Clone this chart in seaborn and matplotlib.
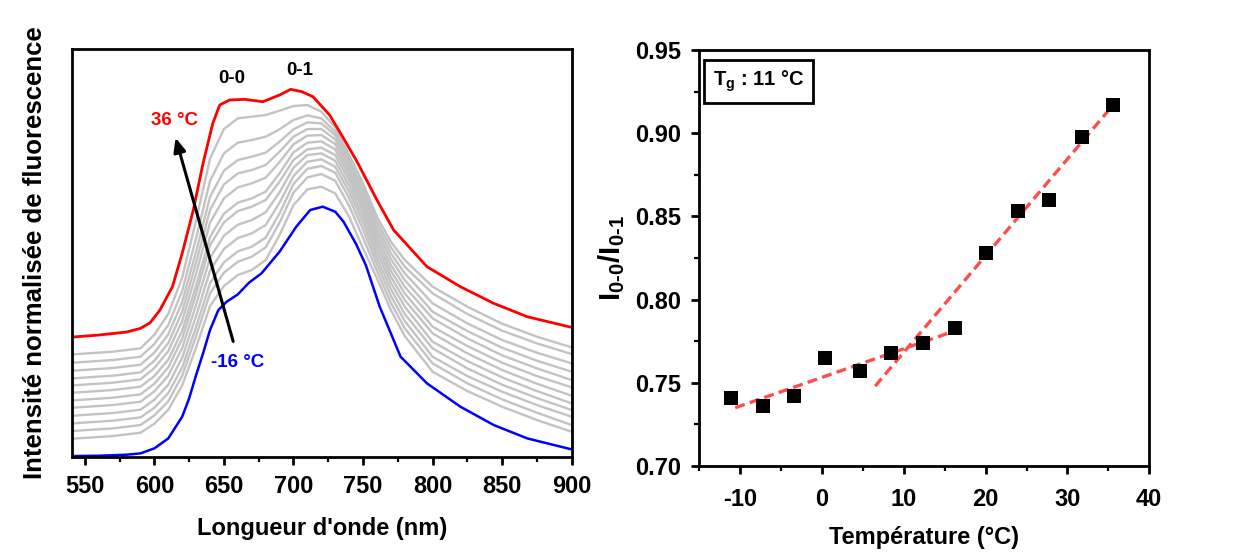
import matplotlib
matplotlib.use("Agg")
import numpy as np
import pandas as pd
import matplotlib.pyplot as plt
import seaborn as sns
from matplotlib.ticker import MultipleLocator, FormatStrFormatter

# ---------------- data: left panel (fluorescence spectra, a.u.) ----------------
wl_red = [541, 560, 580, 590, 597, 604, 613, 620, 628, 635, 642, 647, 654, 665, 678,
          690, 698, 706, 714, 726, 736, 746, 760, 772, 796, 820, 844, 868, 900]
int_red = [359, 365, 374, 385, 402, 440, 510, 610, 740, 880, 1000, 1055, 1070, 1072, 1065,
           1085, 1102, 1095, 1080, 1025, 955, 883, 770, 680, 570, 510, 460, 420, 388]

wl_blue = [541, 560, 580, 590, 600, 610, 620, 625, 630, 635, 640, 646, 652, 660, 668, 677,
           690, 702, 712, 721, 730, 736, 745, 752, 762, 777, 796, 820, 844, 868, 900]
int_blue = [2, 3, 6, 10, 25, 55, 120, 175, 245, 310, 380, 440, 465, 487, 522, 550,
            615, 690, 740, 750, 735, 705, 638, 575, 450, 300, 220, 150, 95, 55, 22]

wl_gray = [541, 570, 590, 600, 610, 620, 630, 640, 650, 660, 670, 680, 690, 700,
           710, 720, 730, 740, 750, 760, 770, 780, 800, 825, 850, 875, 900]
gray_01 = [307, 315, 325, 366, 428, 537, 709, 894, 983, 1015, 1020, 1025, 1038, 1052, 1055, 1035, 988, 905, 820, 720, 645, 590, 510, 450, 399, 360, 328]
gray_02 = [282, 290, 300, 338, 395, 497, 656, 827, 910, 942, 950, 960, 982, 1010, 1024, 1015, 975, 895, 807, 705, 628, 570, 490, 428, 378, 340, 308]
gray_03 = [258, 266, 276, 312, 367, 464, 615, 779, 858, 890, 900, 912, 945, 982, 1003, 1000, 965, 883, 794, 690, 610, 550, 460, 400, 350, 312, 280]
gray_04 = [235, 243, 253, 288, 341, 435, 582, 740, 817, 850, 860, 875, 915, 960, 983, 983, 952, 870, 780, 675, 593, 530, 435, 377, 327, 288, 255]
gray_05 = [214, 222, 232, 266, 317, 407, 549, 702, 775, 808, 820, 837, 884, 937, 963, 965, 938, 857, 766, 660, 575, 510, 415, 355, 304, 265, 230]
gray_06 = [192, 200, 210, 242, 291, 378, 513, 659, 729, 762, 775, 795, 850, 913, 942, 946, 922, 843, 752, 645, 558, 490, 390, 332, 282, 242, 208]
gray_07 = [169, 177, 187, 219, 268, 354, 488, 634, 703, 737, 750, 770, 825, 890, 922, 927, 905, 829, 737, 630, 540, 470, 370, 310, 260, 219, 183]
gray_08 = [147, 155, 165, 196, 243, 326, 456, 596, 663, 696, 710, 733, 793, 867, 905, 910, 888, 812, 720, 613, 522, 450, 345, 287, 238, 197, 160]
gray_09 = [123, 131, 141, 171, 216, 297, 422, 558, 623, 656, 670, 695, 762, 842, 885, 892, 870, 795, 702, 595, 503, 428, 325, 265, 216, 176, 140]
gray_10 = [100, 108, 118, 147, 191, 268, 389, 520, 583, 616, 630, 657, 730, 818, 864, 872, 852, 776, 682, 577, 483, 407, 300, 242, 195, 155, 120]
gray_11 = [77, 85, 95, 124, 166, 243, 362, 490, 552, 585, 600, 628, 702, 792, 838, 848, 828, 753, 657, 557, 462, 385, 280, 220, 172, 132, 95]
gray_12 = [54, 62, 72, 99, 141, 214, 328, 452, 512, 545, 560, 590, 665, 755, 802, 810, 790, 720, 625, 535, 440, 362, 255, 197, 150, 110, 75]
gray_curves = [gray_01, gray_02, gray_03, gray_04, gray_05, gray_06,
               gray_07, gray_08, gray_09, gray_10, gray_11, gray_12]

# ---------------- data: right panel ----------------
temp_c = [-11.1, -7.2, -3.4, 0.4, 4.6, 8.4, 12.3, 16.2, 20.1, 24.0, 27.8, 31.8, 35.6]
ratio = [0.741, 0.736, 0.742, 0.765, 0.757, 0.768, 0.774, 0.783, 0.828, 0.853, 0.860, 0.898, 0.917]
fit_low_x = [-10.6, 16.7]
fit_low_y = [0.735, 0.782]
fit_high_x = [6.5, 35.6]
fit_high_y = [0.748, 0.917]

# ---------------- style ----------------
sns.set_theme(style="ticks")
plt.rcParams['font.family'] = ['Liberation Sans', 'DejaVu Sans']
plt.rcParams['font.weight'] = 'bold'
plt.rcParams['axes.labelweight'] = 'bold'
plt.rcParams['text.color'] = 'black'
plt.rcParams['axes.labelcolor'] = 'black'
plt.rcParams['xtick.color'] = 'black'
plt.rcParams['ytick.color'] = 'black'
plt.rcParams['axes.unicode_minus'] = False
plt.rcParams['mathtext.fontset'] = 'custom'
plt.rcParams['mathtext.rm'] = 'Liberation Sans:bold'
plt.rcParams['mathtext.bf'] = 'Liberation Sans:bold'
plt.rcParams['mathtext.it'] = 'Liberation Sans:bold'
plt.rcParams['mathtext.default'] = 'rm'

fig = plt.figure(figsize=(12.42, 5.52), dpi=100)
ax1 = fig.add_axes([0.0582, 0.1726, 0.4021, 0.738])
ax2 = fig.add_axes([0.5630, 0.1558, 0.3623, 0.7536])

TICK_FS = 17
LABEL_FS = 17

# ---- left panel ----
for g in gray_curves[::-1]:
    sns.lineplot(x=wl_gray, y=g, ax=ax1, color='#c3c3c3', linewidth=1.7,
                 sort=False, estimator=None)
sns.lineplot(x=wl_blue, y=int_blue, ax=ax1, color='#0000ff', linewidth=1.8,
             sort=False, estimator=None)
sns.lineplot(x=wl_red, y=int_red, ax=ax1, color='#ff0000', linewidth=2.0,
             sort=False, estimator=None)

ax1.set_xlim(541, 900)
ax1.set_ylim(0, 1222)
ax1.set_yticks([])
ax1.xaxis.set_major_locator(MultipleLocator(50))
ax1.xaxis.set_minor_locator(MultipleLocator(25))
ax1.set_xlabel("Longueur d'onde (nm)", fontsize=LABEL_FS, fontweight='bold', labelpad=14)
ax1.set_ylabel("Intensité normalisée de fluorescence", fontsize=18.5, fontweight='bold', labelpad=18)

ax1.text(655.8, 1136, "0-0", fontsize=13.5, fontweight='bold', ha='center', va='center', color='black')
ax1.text(704.7, 1160, "0-1", fontsize=13.5, fontweight='bold', ha='center', va='center', color='black')
ax1.text(614.5, 1010, "36 °C", fontsize=13.5, fontweight='bold', ha='center', va='center', color='#ff0000')
ax1.text(660, 284, "-16 °C", fontsize=13.5, fontweight='bold', ha='center', va='center', color='#0000ff')
ax1.annotate("", xy=(614.7, 965), xytext=(657.2, 338),
             arrowprops=dict(arrowstyle='-|>,head_length=0.7,head_width=0.3',
                             color='black', lw=2.2))

# ---- right panel ----
sns.lineplot(x=fit_low_x, y=fit_low_y, ax=ax2, color='#ff4d4d', linewidth=2.4,
             sort=False, estimator=None, dashes=False, linestyle=(0, (3, 1.6)))
sns.lineplot(x=fit_high_x, y=fit_high_y, ax=ax2, color='#ff4d4d', linewidth=2.4,
             sort=False, estimator=None, dashes=False, linestyle=(0, (3, 1.6)))
sns.scatterplot(x=temp_c, y=ratio, ax=ax2, marker='s', color='black', s=95,
                edgecolor='black', linewidth=0, zorder=5)

ax2.set_xlim(-15, 40)
ax2.set_ylim(0.70, 0.95)
ax2.xaxis.set_major_locator(MultipleLocator(10))
ax2.xaxis.set_minor_locator(MultipleLocator(5))
ax2.yaxis.set_major_locator(MultipleLocator(0.05))
ax2.yaxis.set_minor_locator(MultipleLocator(0.025))
ax2.yaxis.set_major_formatter(FormatStrFormatter('%.2f'))
ax2.set_xlabel("Température (°C)", fontsize=LABEL_FS, fontweight='bold', labelpad=11)
ax2.set_ylabel(r"I$_{0\text{-}0}$/I$_{0\text{-}1}$", fontsize=21, fontweight='bold', labelpad=6)
ax2.text(0.03, 0.955, r"T$_g$ : 11 °C", transform=ax2.transAxes, fontsize=14.5,
         fontweight='bold', ha='left', va='top',
         bbox=dict(boxstyle='square,pad=0.42', facecolor='white', edgecolor='black', linewidth=2))

for ax in (ax1, ax2):
    for sp in ax.spines.values():
        sp.set_visible(True)
        sp.set_linewidth(2.0)
        sp.set_color('black')
    ax.tick_params(axis='both', which='major', direction='out', length=6, width=2,
                   labelsize=TICK_FS, pad=7, colors='black')
    ax.tick_params(axis='both', which='minor', direction='out', length=3.5, width=1.6,
                   colors='black')
    for lbl in ax.get_xticklabels() + ax.get_yticklabels():
        lbl.set_fontweight('bold')
ax1.tick_params(axis='y', which='both', left=False)
ax2.tick_params(axis='x', which='major', pad=10)

fig.savefig("out.png", dpi=100)
